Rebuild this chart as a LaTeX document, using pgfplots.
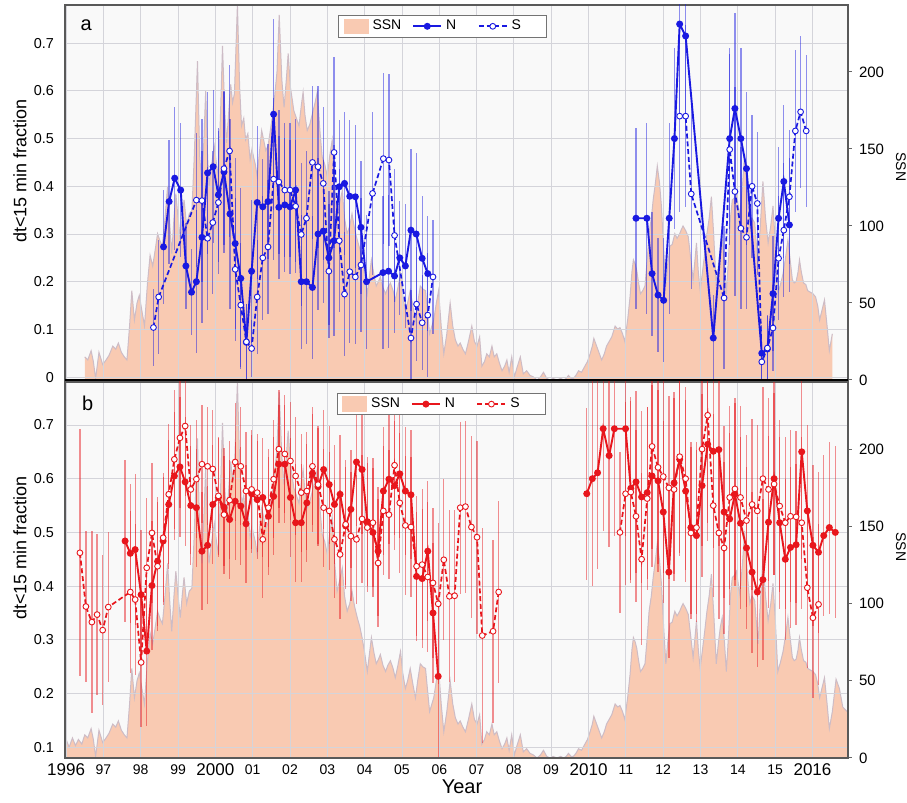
\documentclass[border=0pt]{standalone}
\usepackage{fontspec}
\setmainfont{Liberation Sans}
\usepackage{pgfplots}
\usepackage{pgfplotstable}
\pgfplotsset{compat=1.18}

\definecolor{ssnfill}{RGB}{249,202,178}
\definecolor{ssnedge}{RGB}{205,188,198}
\definecolor{bgc}{RGB}{249,249,249}
\definecolor{gridc}{RGB}{212,212,218}
\definecolor{nblue}{RGB}{25,25,225}
\definecolor{nred}{RGB}{232,22,28}

\pgfplotsset{
  shortline/.style={legend image code/.code={%
    \draw[mark repeat=2,mark phase=2,##1] plot coordinates {(0pt,0pt) (7pt,0pt) (14pt,0pt)};}},
  ssnarea/.style={legend image code/.code={%
    \fill[ssnfill] (0pt,-3.6pt) rectangle (12pt,3.6pt);}},
  Nst/.style={draw=#1, line width=0.95pt, mark=*, mark size=1.25pt,
    mark options={solid, fill=#1, draw=#1},
    error bars/y dir=both, error bars/y explicit, error bars/error mark=none,
    error bars/error bar style={line width=0.65pt, draw=#1, draw opacity=0.48, solid}},
  Sst/.style={draw=#1, line width=0.85pt, dash pattern=on 2.5pt off 1.4pt, mark=*, mark size=1.45pt,
    mark options={solid, fill=white, draw=#1, line width=0.45pt},
    error bars/y dir=both, error bars/y explicit, error bars/error mark=none,
    error bars/error bar style={line width=0.65pt, draw=#1, draw opacity=0.48, solid}},
  ssnaxis/.style={anchor=south west, scale only axis, width=391.5pt,
    xmin=1995.97, xmax=2016.95, ymin=0, ymax=243.5,
    axis x line=none, axis y line*=right, axis line style={black!60, line width=0.5pt},
    axis background/.style={fill=bgc},
    ytick={0,50,100,150,200}, tick align=outside, major tick length=2pt,
    ytick style={black!60, line width=0.5pt},
    yticklabel style={font=\fontsize{7.5}{8}\selectfont, /pgf/number format/assume math mode=true},
    ylabel={SSN}, ylabel style={anchor=center, rotate=180, font=\fontsize{7}{8}\selectfont}},
  fracaxis/.style={anchor=south west, scale only axis, width=391.5pt,
    xmin=1995.97, xmax=2016.95,
    axis line style={black!65, line width=0.6pt},
    xtick={1996,...,2016}, major tick length=0pt,
    grid=major, major grid style={gridc, line width=0.45pt},
    ytick pos=left,
    yticklabel style={font=\fontsize{7.2}{8}\selectfont, xshift=-2pt},
    ylabel={dt<15 min fraction}, ylabel style={anchor=center, font=\fontsize{9}{10}\selectfont},
    legend columns=3, legend cell align=left,
    legend style={anchor=north west, draw=black!55, line width=0.5pt, fill=white,
      font=\fontsize{7}{8}\selectfont, inner xsep=2.5pt, inner ysep=1.5pt,
      nodes={inner ysep=0.5pt},
      /tikz/column 2/.style={column sep=3.5pt},
      /tikz/column 4/.style={column sep=8.8pt}}},
}

% Sunspot number (monthly-like)
\pgfplotstableread{
x s
1996.00 12
1996.08 7
1996.17 13
1996.25 8
1996.33 12
1996.42 9
1996.50 15
1996.58 13
1996.67 19
1996.73 12
1996.79 1
1996.88 18
1996.98 10
1997.07 13
1997.15 16
1997.25 22
1997.33 20
1997.40 24
1997.48 18
1997.56 15
1997.63 13
1997.70 35
1997.76 58
1997.83 39
1997.90 50
1997.96 55
1998.03 45
1998.10 35
1998.18 63
1998.25 81
1998.32 74
1998.39 85
1998.45 95
1998.52 90
1998.58 87
1998.65 105
1998.72 126
1998.78 100
1998.83 82
1998.89 105
1998.94 121
1999.00 105
1999.06 91
1999.11 105
1999.16 117
1999.23 100
1999.30 108
1999.37 110
1999.43 143
1999.52 207
1999.58 145
1999.64 126
1999.69 155
1999.74 188
1999.79 145
1999.83 126
1999.90 140
1999.97 152
2000.03 140
2000.08 132
2000.14 175
2000.19 217
2000.25 175
2000.30 154
2000.36 175
2000.41 192
2000.46 180
2000.51 186
2000.59 244
2000.65 190
2000.70 165
2000.76 170
2000.81 156
2000.87 160
2000.93 143
2000.98 150
2001.02 145
2001.07 140
2001.12 132
2001.18 148
2001.24 162
2001.30 155
2001.35 149
2001.41 152
2001.46 160
2001.52 170
2001.59 185
2001.65 200
2001.71 237
2001.78 195
2001.84 177
2001.90 195
2001.95 212
2002.01 190
2002.06 182
2002.10 175
2002.17 170
2002.24 165
2002.30 178
2002.35 187
2002.40 172
2002.46 162
2002.53 166
2002.60 173
2002.67 180
2002.73 187
2002.80 162
2002.86 145
2002.93 140
2003.00 132
2003.06 145
2003.13 156
2003.20 125
2003.26 108
2003.33 115
2003.40 123
2003.46 105
2003.53 95
2003.60 100
2003.66 108
2003.73 98
2003.80 91
2003.87 85
2003.93 78
2004.00 68
2004.07 56
2004.12 66
2004.18 78
2004.25 68
2004.31 61
2004.37 64
2004.42 67
2004.49 60
2004.56 56
2004.62 60
2004.69 63
2004.76 58
2004.82 52
2004.89 60
2004.96 69
2005.02 55
2005.09 45
2005.15 50
2005.22 58
2005.29 48
2005.36 39
2005.42 50
2005.49 61
2005.56 59
2005.63 58
2005.68 45
2005.74 30
2005.80 35
2005.85 39
2005.92 50
2005.98 58
2006.05 35
2006.12 17
2006.20 30
2006.29 50
2006.36 35
2006.43 26
2006.50 22
2006.56 24
2006.63 20
2006.70 17
2006.78 25
2006.87 35
2006.94 25
2007.01 22
2007.08 28
2007.14 9
2007.21 12
2007.27 17
2007.34 15
2007.41 22
2007.47 15
2007.54 17
2007.61 11
2007.68 6
2007.75 9
2007.81 13
2007.87 5
2007.94 15
2008.01 2
2008.08 8
2008.17 15
2008.25 4
2008.34 6
2008.43 3
2008.52 2
2008.62 0
2008.71 2
2008.79 5
2008.88 1
2008.97 0
2009.05 1
2009.15 0
2009.25 1
2009.33 0
2009.40 1
2009.46 3
2009.53 1
2009.59 1
2009.66 3
2009.73 6
2009.81 5
2009.90 9
2009.97 12
2010.04 17
2010.10 22
2010.14 27
2010.20 23
2010.26 19
2010.35 13
2010.42 17
2010.48 22
2010.55 25
2010.62 28
2010.71 35
2010.78 33
2010.84 34
2010.91 30
2010.97 25
2011.05 40
2011.11 54
2011.16 70
2011.20 78
2011.25 75
2011.29 71
2011.34 63
2011.39 56
2011.45 58
2011.51 61
2011.56 75
2011.62 95
2011.68 105
2011.73 117
2011.79 128
2011.84 139
2011.90 128
2011.95 113
2012.01 85
2012.07 61
2012.12 75
2012.18 87
2012.24 88
2012.31 95
2012.37 92
2012.44 95
2012.49 98
2012.53 100
2012.60 97
2012.67 93
2012.74 78
2012.80 65
2012.85 78
2012.89 89
2012.94 70
2012.99 58
2013.05 70
2013.11 82
2013.17 95
2013.23 105
2013.29 119
2013.35 95
2013.42 61
2013.48 75
2013.53 85
2013.58 91
2013.64 75
2013.69 56
2013.75 80
2013.80 105
2013.85 117
2013.90 118
2013.96 121
2014.05 106
2014.12 125
2014.18 147
2014.25 120
2014.32 100
2014.38 105
2014.45 102
2014.54 74
2014.60 100
2014.67 129
2014.74 105
2014.81 89
2014.88 100
2014.94 113
2015.00 90
2015.07 56
2015.14 62
2015.21 69
2015.28 80
2015.34 91
2015.40 78
2015.46 65
2015.51 63
2015.56 64
2015.61 70
2015.65 78
2015.70 70
2015.76 63
2015.82 62
2015.87 58
2015.94 57
2016.01 56
2016.08 54
2016.14 48
2016.19 39
2016.25 45
2016.32 52
2016.39 35
2016.45 19
2016.53 30
2016.63 51
2016.72 45
2016.81 33
2016.93 30
}\ssn

% ---- panel a (blue) ----
\pgfplotstableread{
x y e
1998.61 0.273 0.12
1998.76 0.368 0.13
1998.91 0.417 0.15
1999.07 0.392 0.14
1999.21 0.233 0.09
1999.36 0.178 0.09
1999.49 0.200 0.15
1999.64 0.293 0.18
1999.79 0.428 0.17
1999.94 0.441 0.16
2000.08 0.382 0.14
2000.23 0.430 0.17
2000.39 0.342 0.20
2000.53 0.280 0.18
2000.68 0.207 0.19
2000.83 0.073 0.08
2000.97 0.222 0.15
2001.12 0.366 0.16
2001.27 0.357 0.10
2001.41 0.368 0.12
2001.56 0.551 0.20
2001.70 0.356 0.15
2001.86 0.361 0.14
2002.00 0.357 0.14
2002.15 0.392 0.15
2002.30 0.200 0.14
2002.44 0.200 0.13
2002.60 0.188 0.15
2002.75 0.300 0.16
2002.89 0.306 0.15
2003.04 0.250 0.14
2003.18 0.286 0.20
2003.32 0.399 0.14
2003.46 0.406 0.15
2003.60 0.379 0.16
2003.75 0.378 0.15
2003.90 0.314 0.14
2004.05 0.200 0.14
2004.49 0.219 0.16
2004.64 0.222 0.16
2004.80 0.212 0.12
2004.94 0.250 0.12
2005.09 0.233 0.13
2005.24 0.308 0.17
2005.38 0.300 0.17
2005.54 0.249 0.13
2005.69 0.217 0.12
}\topNa
\pgfplotstableread{
x y e
1998.34 0.104 0.08
1998.48 0.168 0.12
1999.49 0.371 0.14
1999.64 0.370 0.17
1999.79 0.291 0.15
1999.93 0.324 0.15
2000.08 0.366 0.15
2000.23 0.437 0.16
2000.38 0.474 0.18
2000.53 0.226 0.15
2000.68 0.151 0.13
2000.83 0.074 0.08
2000.97 0.060 0.06
2001.12 0.168 0.12
2001.27 0.250 0.13
2001.41 0.273 0.14
2001.56 0.415 0.17
2001.70 0.409 0.15
2001.86 0.392 0.14
2002.00 0.392 0.14
2002.15 0.358 0.14
2002.30 0.299 0.15
2002.44 0.333 0.14
2002.60 0.450 0.16
2002.75 0.441 0.17
2002.89 0.406 0.16
2003.04 0.222 0.14
2003.18 0.471 0.20
2003.32 0.286 0.15
2003.46 0.174 0.13
2003.60 0.221 0.15
2003.75 0.210 0.14
2003.90 0.235 0.14
2004.21 0.385 0.17
2004.50 0.458 0.18
2004.65 0.455 0.18
2004.80 0.297 0.14
2005.24 0.082 0.10
2005.39 0.153 0.12
2005.54 0.114 0.10
2005.69 0.130 0.13
2005.83 0.210 0.12
}\topSa
\pgfplotstableread{
x y e
2011.27 0.333 0.19
2011.56 0.333 0.20
2011.70 0.217 0.13
2011.86 0.172 0.12
2012.01 0.161 0.13
2012.16 0.333 0.20
2012.30 0.500 0.19
2012.44 0.740 0.20
2012.60 0.715 0.20
2013.34 0.082 0.09
2013.78 0.500 0.19
2013.92 0.563 0.20
2014.08 0.500 0.19
2014.23 0.437 0.16
2014.64 0.050 0.06
2014.79 0.059 0.07
2014.94 0.175 0.12
2015.09 0.333 0.15
2015.23 0.410 0.16
2015.38 0.319 0.14
}\topNb
\pgfplotstableread{
x y e
2012.44 0.547 0.20
2012.60 0.547 0.19
2012.75 0.384 0.20
2013.63 0.166 0.15
2013.78 0.477 0.20
2013.92 0.389 0.22
2014.08 0.312 0.17
2014.23 0.293 0.15
2014.38 0.400 0.15
2014.52 0.364 0.15
2014.64 0.032 0.05
2014.79 0.061 0.07
2014.94 0.103 0.09
2015.09 0.249 0.13
2015.23 0.308 0.14
2015.38 0.378 0.14
2015.54 0.516 0.17
2015.68 0.556 0.16
2015.83 0.516 0.16
}\topSb

% ---- panel b (red) ----
\pgfplotstableread{
x y e
1997.58 0.484 0.15
1997.72 0.461 0.13
1997.85 0.468 0.14
1998.01 0.384 0.12
1998.16 0.279 0.14
1998.30 0.401 0.12
1998.45 0.446 0.12
1998.60 0.484 0.12
1998.75 0.552 0.12
1998.90 0.605 0.12
1999.05 0.622 0.13
1999.19 0.594 0.12
1999.34 0.550 0.11
1999.49 0.546 0.11
1999.64 0.465 0.11
1999.79 0.476 0.11
1999.93 0.552 0.11
2000.08 0.565 0.11
2000.23 0.547 0.11
2000.38 0.524 0.11
2000.53 0.558 0.11
2000.68 0.549 0.11
2000.82 0.516 0.11
2000.97 0.572 0.11
2001.12 0.561 0.11
2001.27 0.565 0.11
2001.42 0.530 0.11
2001.56 0.567 0.11
2001.70 0.627 0.11
2001.86 0.627 0.11
2002.01 0.565 0.11
2002.15 0.518 0.11
2002.30 0.518 0.11
2002.45 0.555 0.11
2002.60 0.610 0.11
2002.75 0.585 0.11
2002.90 0.617 0.11
2003.05 0.589 0.11
2003.19 0.552 0.11
2003.34 0.571 0.11
2003.49 0.512 0.11
2003.63 0.543 0.11
2003.78 0.631 0.12
2003.93 0.617 0.12
2004.07 0.520 0.12
2004.22 0.500 0.12
2004.36 0.465 0.12
2004.50 0.577 0.12
2004.65 0.599 0.12
2004.80 0.587 0.12
2004.94 0.609 0.12
2005.09 0.577 0.12
2005.24 0.570 0.12
2005.39 0.418 0.12
2005.54 0.414 0.13
2005.69 0.465 0.13
2005.83 0.350 0.13
2005.97 0.232 0.15
}\botNa
\pgfplotstableread{
x y e
1996.37 0.462 0.23
1996.53 0.362 0.14
1996.69 0.333 0.17
1996.83 0.347 0.15
1996.98 0.318 0.14
1997.13 0.361 0.14
1997.72 0.389 0.15
1997.85 0.375 0.14
1998.01 0.258 0.12
1998.16 0.434 0.13
1998.30 0.499 0.13
1998.45 0.437 0.12
1998.60 0.490 0.12
1998.75 0.571 0.13
1998.90 0.636 0.13
1999.05 0.676 0.13
1999.19 0.698 0.13
1999.34 0.580 0.12
1999.49 0.599 0.11
1999.64 0.627 0.11
1999.79 0.623 0.11
1999.93 0.618 0.11
2000.08 0.568 0.11
2000.23 0.533 0.11
2000.38 0.560 0.11
2000.53 0.631 0.11
2000.68 0.623 0.11
2000.82 0.577 0.11
2000.97 0.580 0.11
2001.12 0.574 0.11
2001.27 0.487 0.11
2001.42 0.546 0.11
2001.56 0.599 0.11
2001.70 0.655 0.11
2001.86 0.646 0.11
2002.01 0.633 0.11
2002.15 0.605 0.11
2002.30 0.574 0.11
2002.45 0.577 0.11
2002.60 0.623 0.11
2002.75 0.589 0.11
2002.90 0.546 0.11
2003.05 0.540 0.11
2003.19 0.487 0.11
2003.34 0.459 0.12
2003.49 0.515 0.12
2003.63 0.493 0.12
2003.78 0.487 0.12
2003.93 0.525 0.12
2004.07 0.509 0.12
2004.22 0.518 0.12
2004.36 0.443 0.12
2004.50 0.540 0.12
2004.65 0.533 0.12
2004.80 0.625 0.13
2004.94 0.555 0.13
2005.09 0.513 0.13
2005.24 0.510 0.13
2005.39 0.437 0.13
2005.54 0.440 0.14
2005.69 0.417 0.14
2005.83 0.406 0.14
2005.97 0.367 0.15
2006.12 0.449 0.15
2006.27 0.381 0.16
2006.41 0.382 0.16
2006.56 0.546 0.16
2006.70 0.548 0.16
2006.86 0.510 0.17
2007.01 0.491 0.18
2007.15 0.308 0.20
2007.44 0.316 0.17
2007.59 0.389 0.17
}\botSa
\pgfplotstableread{
x y e
2009.95 0.572 0.16
2010.10 0.600 0.20
2010.24 0.611 0.18
2010.39 0.693 0.19
2010.55 0.643 0.17
2010.69 0.693 0.20
2010.99 0.693 0.20
2011.13 0.582 0.17
2011.27 0.594 0.17
2011.42 0.566 0.16
2011.57 0.574 0.16
2011.70 0.605 0.17
2011.86 0.596 0.17
2012.00 0.538 0.17
2012.15 0.426 0.16
2012.29 0.592 0.17
2012.44 0.636 0.18
2012.60 0.577 0.17
2012.74 0.509 0.16
2012.89 0.494 0.16
2013.04 0.587 0.17
2013.19 0.664 0.18
2013.34 0.651 0.18
2013.49 0.654 0.18
2013.63 0.538 0.16
2013.78 0.525 0.16
2013.92 0.571 0.17
2014.07 0.517 0.16
2014.23 0.471 0.15
2014.38 0.426 0.15
2014.52 0.389 0.14
2014.67 0.412 0.15
2014.82 0.519 0.16
2014.97 0.600 0.18
2015.12 0.518 0.16
2015.27 0.450 0.15
2015.41 0.472 0.15
2015.56 0.477 0.15
2015.71 0.650 0.20
2015.86 0.540 0.16
2016.01 0.476 0.15
2016.16 0.463 0.15
2016.30 0.494 0.15
2016.45 0.509 0.16
2016.61 0.500 0.16
}\botNb
\pgfplotstableread{
x y e
2010.84 0.500 0.15
2010.99 0.572 0.17
2011.13 0.575 0.17
2011.27 0.530 0.16
2011.42 0.450 0.16
2011.57 0.563 0.17
2011.70 0.660 0.19
2011.86 0.621 0.18
2012.00 0.604 0.18
2012.15 0.583 0.17
2012.29 0.580 0.17
2012.44 0.641 0.18
2012.60 0.600 0.17
2012.74 0.499 0.16
2012.89 0.509 0.16
2013.04 0.655 0.18
2013.19 0.718 0.20
2013.34 0.550 0.17
2013.49 0.499 0.16
2013.63 0.471 0.16
2013.78 0.565 0.17
2013.92 0.581 0.17
2014.07 0.565 0.17
2014.23 0.522 0.16
2014.38 0.552 0.16
2014.52 0.540 0.16
2014.67 0.600 0.17
2014.82 0.580 0.17
2014.97 0.590 0.17
2015.12 0.549 0.16
2015.27 0.518 0.16
2015.41 0.530 0.16
2015.56 0.529 0.16
2015.71 0.518 0.16
2015.86 0.397 0.15
2016.01 0.341 0.15
2016.16 0.366 0.15
}\botSb

\begin{document}
\begin{tikzpicture}
\path[use as bounding box] (0,0) rectangle (453.5pt,401.5pt);

% ===== Panel a =====
\begin{axis}[ssnaxis, at={(32.5pt,211.5pt)}, height=187.5pt,
  ylabel style={at={(rel axis cs:1.0677,0.568)}}]
\addplot[fill=ssnfill, draw=none, restrict x to domain=1996.44:2016.55] table[x=x,y=s]{\ssn} \closedcycle;
\addplot[draw=ssnedge, line width=0.5pt, restrict x to domain=1996.44:2016.55] table[x=x,y=s]{\ssn};
\end{axis}
\begin{axis}[fracaxis, at={(32.5pt,211.5pt)}, height=187.5pt,
  ymin=-0.006, ymax=0.78,
  ytick={0,0.1,0.2,0.3,0.4,0.5,0.6,0.7},
  yticklabels={0,0.1,0.2,0.3,0.4,0.5,0.6,0.7},
  xticklabels={},
  ylabel style={at={(rel axis cs:-0.0575,0.557)}},
  legend style={at={(0.3487,0.973)}},
  after end axis/.code={\draw[black, line width=1pt] (rel axis cs:0,0) -- (rel axis cs:1,0);}]
\addlegendimage{ssnarea}
\addlegendentry{SSN}
\addplot[Nst=nblue, shortline] table[x=x,y=y,y error=e]{\topNa};
\addlegendentry{N}
\addplot[Sst=nblue, shortline] table[x=x,y=y,y error=e]{\topSa};
\addlegendentry{S\hspace*{8.5pt}}
\addplot[Nst=nblue, forget plot] table[x=x,y=y,y error=e]{\topNb};
\addplot[Sst=nblue, forget plot] table[x=x,y=y,y error=e]{\topSb};
\node[font=\fontsize{10}{12}\selectfont] at (rel axis cs:0.027,0.947) {a};
\end{axis}

% ===== Panel b =====
\begin{axis}[ssnaxis, at={(32.5pt,22.5pt)}, height=188pt,
  ylabel style={at={(rel axis cs:1.0677,0.561)}}]
\addplot[fill=ssnfill, draw=none] table[x=x,y=s]{\ssn} \closedcycle;
\addplot[draw=ssnedge, line width=0.5pt] table[x=x,y=s]{\ssn};
\end{axis}
\begin{axis}[fracaxis, at={(32.5pt,22.5pt)}, height=188pt,
  ymin=0.08, ymax=0.78,
  ytick={0.1,0.2,0.3,0.4,0.5,0.6,0.7},
  yticklabels={0.1,0.2,0.3,0.4,0.5,0.6,0.7},
  xticklabels={{\fontsize{8.5}{9}\selectfont 1996},97,98,99,{\fontsize{8.5}{9}\selectfont 2000},01,02,03,04,05,06,07,08,09,{\fontsize{8.5}{9}\selectfont 2010},11,12,13,14,15,{\fontsize{8.5}{9}\selectfont 2016}},
  xticklabel style={font=\fontsize{7}{8}\selectfont, anchor=center, yshift=-6pt},
  xlabel={Year}, xlabel style={at={(rel axis cs:0.507,-0.077)}, anchor=center, font=\fontsize{10}{12}\selectfont},
  ylabel style={at={(rel axis cs:-0.0575,0.559)}},
  legend style={at={(0.347,0.971)}}]
\addlegendimage{ssnarea}
\addlegendentry{SSN}
\addplot[Nst=nred, shortline] table[x=x,y=y,y error=e]{\botNa};
\addlegendentry{N}
\addplot[Sst=nred, shortline] table[x=x,y=y,y error=e]{\botSa};
\addlegendentry{S\hspace*{8.5pt}}
\addplot[Nst=nred, forget plot] table[x=x,y=y,y error=e]{\botNb};
\addplot[Sst=nred, forget plot] table[x=x,y=y,y error=e]{\botSb};
\node[font=\fontsize{10}{12}\selectfont] at (rel axis cs:0.029,0.944) {b};
\end{axis}
\end{tikzpicture}
\end{document}
